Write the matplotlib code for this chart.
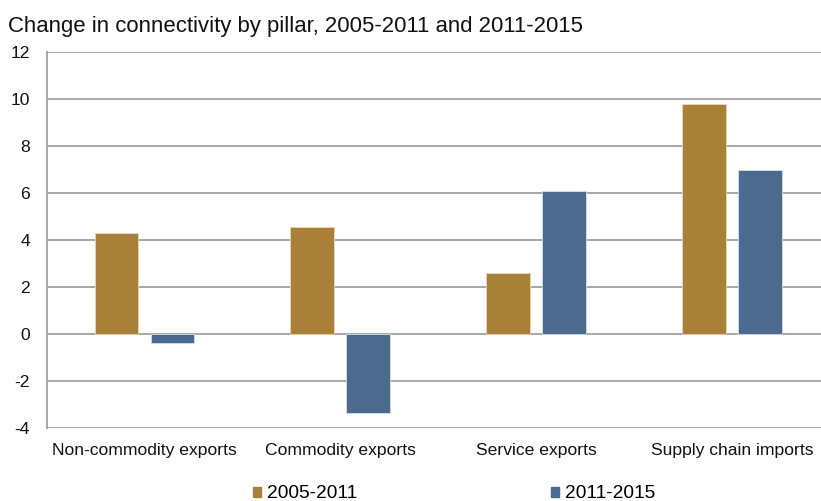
import matplotlib
matplotlib.use("Agg")
import matplotlib.pyplot as plt
import matplotlib.patches as mpatches
import numpy as np

# Change in connectivity per pillar
pillars = ["Non-commodity exports", "Commodity exports", "Service exports", "Supply chain imports"]
series_names = ["2005-2011", "2011-2015"]
change_2005_2011 = [4.28, 4.54, 2.60, 9.77]
change_2011_2015 = [-0.40, -3.37, 6.10, 6.97]
y_ticks = [-4, -2, 0, 2, 4, 6, 8, 10, 12]

COLORS = ["#A98038", "#4B6A8D"]
GRID = "#A8A8A8"
FONT = "Liberation Sans"

plt.rcParams["font.family"] = FONT

fig = plt.figure(figsize=(8.21, 5.01), dpi=100)
# plot area runs a little past the right edge of the figure
ax = fig.add_axes((0.0567, 0.1457, 0.954, 0.7505))

x = np.arange(len(pillars))
width = 0.224
offset = 0.143
ax.bar(x - offset, change_2005_2011, width, color=COLORS[0], edgecolor="#E8D6B8", linewidth=0.6, zorder=3)
ax.bar(x + offset, change_2011_2015, width, color=COLORS[1], edgecolor="#D6E0EC", linewidth=0.6, zorder=3)

ax.set_xlim(-0.5, len(pillars) - 0.5)
ax.set_ylim(-4, 12)
ax.set_yticks(y_ticks)
ax.set_yticklabels([str(t) for t in y_ticks])
ax.set_xticks(x)
ax.set_xticklabels(pillars)
ax.tick_params(axis="both", length=0, labelsize=12.6, colors="#111111")
ax.tick_params(axis="y", pad=12)
ax.tick_params(axis="x", pad=11)

ax.yaxis.grid(True, color=GRID, linewidth=1.4, zorder=0)
ax.set_axisbelow(True)
for side in ["top", "right", "bottom"]:
    ax.spines[side].set_visible(False)
ax.spines["left"].set_color(GRID)
ax.spines["left"].set_linewidth(1.4)

fig.text(0.010, 0.948, "Change in connectivity by pillar, 2005-2011 and 2011-2015",
         fontsize=15.9, color="#111111", ha="left", va="center")

handles = [mpatches.Patch(color=c, label=n) for c, n in zip(COLORS, series_names)]
fig.legend(handles=handles, loc="center", bbox_to_anchor=(0.553, 0.014), ncol=2,
           frameon=False, fontsize=13.8, handlelength=0.45, handleheight=0.45,
           handletextpad=0.3, columnspacing=10.1, borderaxespad=0)

fig.savefig("out.png", dpi=100, facecolor="white")
